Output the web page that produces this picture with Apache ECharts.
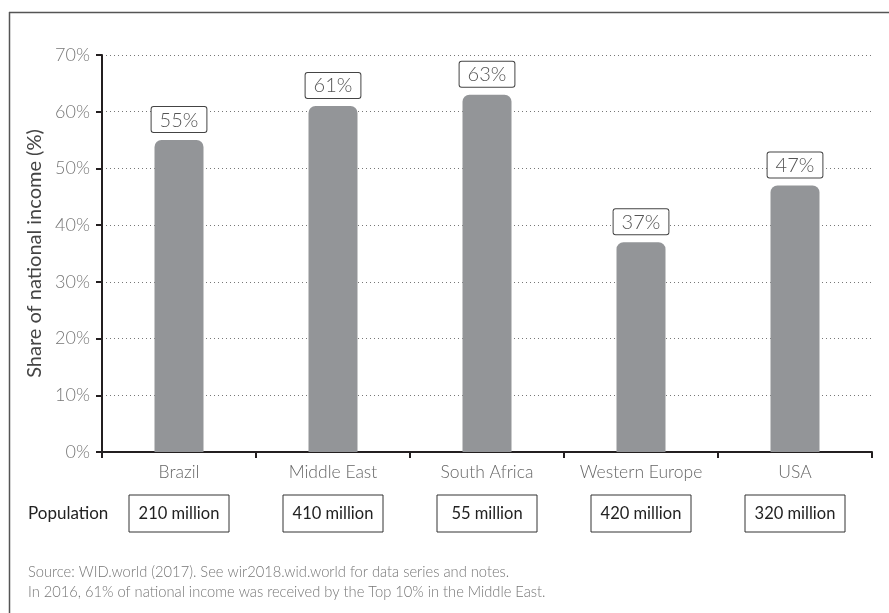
<!DOCTYPE html>
<html>
<head>
<meta charset="utf-8">
<script src="https://cdn.jsdelivr.net/npm/echarts@6/dist/echarts.min.js"></script>
<style>
html,body{margin:0;padding:0;background:#fff;}
#chart{width:889px;height:613px;}
</style>
</head>
<body>
<div id="chart"></div>
<script>
const categories = ['Brazil', 'Middle East', 'South Africa', 'Western Europe', 'USA'];
const shares = [55, 61, 63, 37, 47];
const populations = ['210 million', '410 million', '55 million', '420 million', '320 million'];
const yTicks = [0, 10, 20, 30, 40, 50, 60, 70];
const yAxisTitle = 'Share of national income (%)';
const rowTitle = 'Population';
const notes = [
  'Source: WID.world (2017). See wir2018.wid.world for data series and notes.',
  'In 2016, 61% of national income was received by the Top 10% in the Middle East.'
];

const FONT = 'Lato, "Noto Sans", sans-serif';
const chart = echarts.init(document.getElementById('chart'), null, {renderer: 'canvas'});
chart.setOption({
  animation: false,
  backgroundColor: '#fff',
  grid: {left: 102, right: 17, top: 55, bottom: 161, containLabel: false},
  xAxis: [{
    type: 'category',
    data: categories,
    axisLine: {lineStyle: {color: '#231f20', width: 2}},
    axisTick: {show: true, interval: 0, length: 6, lineStyle: {color: '#231f20', width: 2}},
    axisLabel: {interval: 0, hideOverlap: false, fontFamily: FONT, fontSize: 17.5, fontWeight: 300, color: '#666', margin: 11}
  }, {
    type: 'category',
    data: populations,
    position: 'bottom',
    offset: 35,
    axisLine: {show: false},
    axisTick: {show: false},
    axisLabel: {
      interval: 0, hideOverlap: false,
      fontFamily: FONT, fontSize: 16.5, color: '#222', margin: 8,
      borderColor: '#333', borderWidth: 1, padding: [9, 0, 9, 0], width: 100, align: 'center', lineHeight: 19
    }
  }],
  yAxis: {
    type: 'value',
    min: 0, max: 70, interval: 10,
    name: yAxisTitle,
    nameLocation: 'middle',
    nameGap: 57,
    nameTextStyle: {fontFamily: FONT, fontSize: 20, color: '#444'},
    axisLine: {show: true, lineStyle: {color: '#231f20', width: 2}},
    axisTick: {show: true, length: 6, lineStyle: {color: '#231f20', width: 2}},
    axisLabel: {fontFamily: FONT, fontSize: 18, fontWeight: 300, color: '#777', margin: 12,
      formatter: v => (yTicks.indexOf(v) >= 0 ? v + '%' : '')},
    splitLine: {show: true, lineStyle: {color: '#777', type: [1, 3], width: 1}}
  },
  series: [{
    type: 'bar',
    data: shares,
    barWidth: 49,
    itemStyle: {color: '#939598', borderRadius: [7, 7, 0, 0]},
    label: {
      show: true, position: 'top', distance: 8,
      formatter: p => p.value + '%',
      fontFamily: FONT, fontSize: 20, fontWeight: 300, color: '#555',
      backgroundColor: '#fff',
      borderColor: '#444', borderWidth: 1, borderRadius: 2, padding: [3, 8, 2, 8]
    }
  }],
  graphic: [
    {type: 'line', shape: {x1: 9, y1: 12.5, x2: 889, y2: 12.5}, style: {stroke: '#555', lineWidth: 1.5}},
    {type: 'line', shape: {x1: 9.5, y1: 12, x2: 9.5, y2: 613}, style: {stroke: '#555', lineWidth: 1.5}},
    {type: 'text', left: 28, top: 505, style: {text: rowTitle, font: '17px ' + FONT, fill: '#222'}},
    {type: 'text', left: 28, top: 565, style: {text: notes[0], font: '300 14.7px ' + FONT, fill: '#777'}},
    {type: 'text', left: 28, top: 585, style: {text: notes[1], font: '300 14.7px ' + FONT, fill: '#777'}}
  ]
});
</script>
</body>
</html>
